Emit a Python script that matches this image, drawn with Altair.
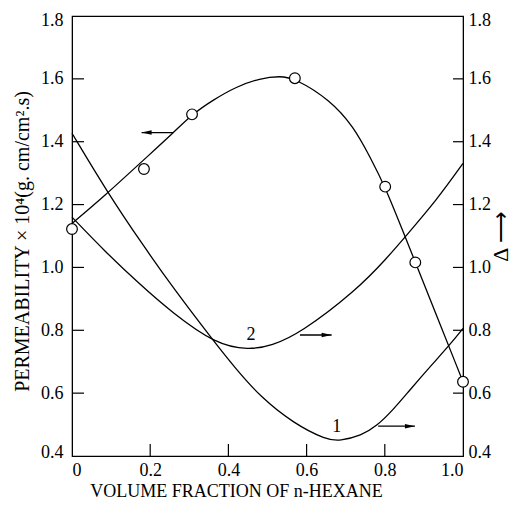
import altair as alt
import pandas as pd

# ---- data ----
perm_circ_x = [0.0, 0.184, 0.307, 0.570, 0.801, 0.878, 1.0]
perm_circ_y = [1.122, 1.313, 1.487, 1.602, 1.257, 1.016, 0.636]

perm_curve_x = [0.0, 0.081, 0.184, 0.259, 0.307, 0.361, 0.42, 0.481, 0.532, 0.570,
                0.66, 0.72, 0.762, 0.801, 0.856, 0.878, 1.0]
perm_curve_y = [1.14, 1.225, 1.343, 1.428, 1.487, 1.533, 1.575, 1.602, 1.609, 1.602,
                1.533, 1.448, 1.352, 1.257, 1.085, 1.017, 0.636]

c1_x = [0.0, 0.091, 0.182, 0.256, 0.367, 0.418, 0.481, 0.566, 0.651, 0.685,
        0.74, 0.779, 0.82, 0.864, 0.92, 0.967, 1.0]
c1_y = [1.427, 1.238, 1.07, 0.939, 0.758, 0.679, 0.589, 0.504, 0.451, 0.448,
        0.465, 0.495, 0.545, 0.61, 0.69, 0.755, 0.806]

c2_x = [0.0, 0.085, 0.17, 0.256, 0.367, 0.452, 0.511, 0.583, 0.728, 0.805,
        0.856, 0.933, 1.0]
c2_y = [1.16, 1.05, 0.95, 0.856, 0.756, 0.737, 0.751, 0.79, 0.928, 1.029,
        1.103, 1.215, 1.331]

curve_labels = ["1", "2"]
label_x = [0.677, 0.458]
label_y = [0.493, 0.785]

# arrows: [tail, head]
perm_arrow_x = [0.259, 0.178]
perm_arrow_y = 1.429
c2_arrow_x = [0.583, 0.664]
c2_arrow_y = 0.785
c1_arrow_x = [0.783, 0.877]
c1_arrow_y = 0.495

x_ticks = [0.2, 0.4, 0.6, 0.8]
y_ticks = [0.6, 0.8, 1.0, 1.2, 1.4, 1.6]
axis_values_x = [0.0, 0.2, 0.4, 0.6, 0.8, 1.0]
axis_values_y = [0.4, 0.6, 0.8, 1.0, 1.2, 1.4, 1.6, 1.8]

FONT = "Liberation Serif"
BLACK = "black"

xscale = alt.Scale(domain=[0, 1.0], nice=False, zero=False)
yscale = alt.Scale(domain=[0.4, 1.8], nice=False, zero=False)

x_axis = alt.Axis(values=axis_values_x,
                  labelExpr="datum.value == 0 ? '0' : format(datum.value, '.1f')",
                  ticks=False, grid=False, labelFlush=True,
                  labelFont=FONT, labelFontSize=18, labelColor=BLACK, labelPadding=5,
                  domainColor=BLACK, title="VOLUME FRACTION OF n-HEXANE",
                  titleFont=FONT, titleFontSize=18, titleFontWeight="normal",
                  titleColor=BLACK, titlePadding=3, titleX=164)

yl_axis = alt.Axis(values=axis_values_y, format=".1f", ticks=False, grid=False,
                   orient="left", labelFont=FONT, labelFontSize=18, labelColor=BLACK,
                   labelPadding=9, labelFlush=True, labelFlushOffset=5,
                   domainColor=BLACK,
                   title="PERMEABILITY × 10⁴(g. cm/cm².s)", titleFont=FONT,
                   titleFontSize=20, titleFontWeight="normal", titleColor=BLACK,
                   titlePadding=8, titleY=225)

yr_axis = alt.Axis(values=axis_values_y, format=".1f", ticks=False, grid=False,
                   orient="right", labelFont=FONT, labelFontSize=18, labelColor=BLACK,
                   labelPadding=5, labelFlush=True, labelFlushOffset=5,
                   domainColor=BLACK,
                   title="Δ ⟶", titleFont=FONT, titleFontSize=22,
                   titleFontWeight="normal", titleColor=BLACK, titleAngle=270,
                   titleBaseline="top", titlePadding=0)


def X(field="x"):
    return alt.X(f"{field}:Q", scale=xscale, axis=x_axis)


def Y(axis, field="y"):
    return alt.Y(f"{field}:Q", scale=yscale, axis=axis)


def line_layer(xs, ys, axis):
    df = pd.DataFrame({"x": xs, "y": ys})
    return alt.Chart(df).mark_line(interpolate="basis", color=BLACK,
                                   strokeWidth=1.3).encode(x=X(), y=Y(axis))


def arrow_layers(xs, yv, axis, right=True):
    df = pd.DataFrame({"x": [xs[0]], "x2": [xs[1]], "y": [yv]})
    rule = alt.Chart(df).mark_rule(color=BLACK, strokeWidth=1.3).encode(
        x=X(), x2="x2:Q", y=Y(axis))
    shape = "M0,0L-2,-0.45L-2,0.45Z" if right else "M0,0L2,-0.45L2,0.45Z"
    hd = pd.DataFrame({"x": [xs[1]], "y": [yv]})
    head = alt.Chart(hd).mark_point(shape=shape, size=100, filled=True,
                                    color=BLACK, opacity=1).encode(x=X(), y=Y(axis))
    return [rule, head]


# ---- left (permeability) group ----
perm_line = line_layer(perm_curve_x, perm_curve_y, yl_axis)
perm_pts = alt.Chart(pd.DataFrame({"x": perm_circ_x, "y": perm_circ_y})).mark_circle(
    size=115, color="white", stroke=BLACK, strokeWidth=1.2, opacity=1
).encode(x=X(), y=Y(yl_axis))

xt_rules = alt.Chart(pd.DataFrame({"x": x_ticks})).mark_rule(
    color=BLACK, strokeWidth=1.2, y2Offset=-12
).encode(x=X(), y=alt.YDatum(0.4, type="quantitative", scale=yscale, axis=yl_axis),
         y2=alt.Y2Datum(0.4))

yl_rules = alt.Chart(pd.DataFrame({"y": y_ticks})).mark_rule(
    color=BLACK, strokeWidth=1.2, x2Offset=12
).encode(y=Y(yl_axis), x=alt.XDatum(0.0, type="quantitative", scale=xscale, axis=x_axis),
         x2=alt.X2Datum(0.0))

left = alt.layer(perm_line, perm_pts, xt_rules, yl_rules,
                 *arrow_layers(perm_arrow_x, perm_arrow_y, yl_axis, right=False))

# ---- right (Δ) group ----
c1_line = line_layer(c1_x, c1_y, yr_axis)
c2_line = line_layer(c2_x, c2_y, yr_axis)
labels = alt.Chart(pd.DataFrame({"x": label_x, "y": label_y, "t": curve_labels})).mark_text(
    font=FONT, fontSize=18, color=BLACK
).encode(x=X(), y=Y(yr_axis), text="t:N")

yr_rules = alt.Chart(pd.DataFrame({"y": y_ticks})).mark_rule(
    color=BLACK, strokeWidth=1.2, x2Offset=-10
).encode(y=Y(yr_axis), x=alt.XDatum(1.0, type="quantitative", scale=xscale, axis=x_axis),
         x2=alt.X2Datum(1.0))

right = alt.layer(c1_line, c2_line, labels, yr_rules,
                  *arrow_layers(c2_arrow_x, c2_arrow_y, yr_axis),
                  *arrow_layers(c1_arrow_x, c1_arrow_y, yr_axis))

chart = alt.layer(left, right).resolve_scale(y="independent").properties(
    width=391, height=440,
    padding={"left": 64, "top": 8, "right": 50, "bottom": 43},
    autosize=alt.AutoSizeParams(type="none"),
    background="white",
).configure_view(stroke=BLACK, strokeWidth=1.2)

chart.save("out.html", embed_options={"renderer": "svg", "actions": False})
